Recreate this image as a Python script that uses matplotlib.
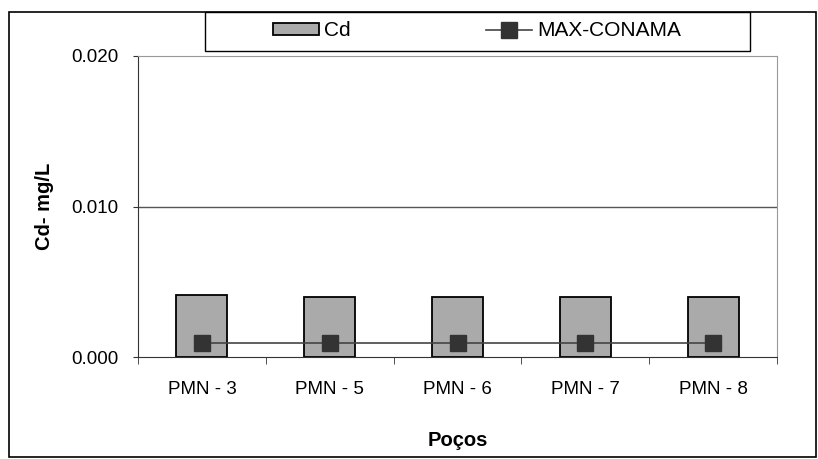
import matplotlib.pyplot as plt
from matplotlib.patches import Rectangle

plt.rcParams['font.family'] = ['Liberation Sans', 'DejaVu Sans']

# Cd concentrations per well (mg/L) and the CONAMA reference line
pocos = ["PMN - 3", "PMN - 5", "PMN - 6", "PMN - 7", "PMN - 8"]
cd = [0.0041, 0.0040, 0.0040, 0.0040, 0.0040]
max_conama = [0.0009, 0.0009, 0.0009, 0.0009, 0.0009]
yticks = [0.000, 0.010, 0.020]

fig = plt.figure(figsize=(8.18, 4.59), dpi=100)
ax = fig.add_axes([138 / 818, 1 - 357 / 459, 639 / 818, 301 / 459])

x = list(range(len(pocos)))
bars = ax.bar(x, cd, width=0.4, color="#aaaaaa", edgecolor="black",
              linewidth=1.3, label="Cd", zorder=2)
line, = ax.plot(x, max_conama, color="#444444", linewidth=1.2, marker="s",
                markersize=11.5, markerfacecolor="#333333",
                markeredgecolor="#333333", label="MAX-CONAMA", zorder=3)

ax.set_xlim(-0.5, len(pocos) - 0.5)
ax.set_ylim(0, 0.020)
ax.set_yticks(yticks)
ax.set_yticklabels([f"{v:.3f}" for v in yticks], fontsize=13.5)
ax.set_xticks(x)
ax.set_xticklabels(pocos, fontsize=13.5)
ax.set_xticks([i + 0.5 for i in range(-1, len(pocos))], minor=True)
ax.tick_params(axis="x", which="major", length=0, pad=17)
ax.tick_params(axis="x", which="minor", length=5, color="#333333")
ax.tick_params(axis="y", length=3.6, pad=10.5, color="#333333")

ax.axhline(0.010, color="#555555", linewidth=1.0, zorder=1)
ax.spines["left"].set_color("#333333")
ax.spines["bottom"].set_color("#333333")
ax.spines["top"].set_color("#999999")
ax.spines["right"].set_color("#999999")

ax.set_xlabel("Poços", fontsize=14.5, fontweight="bold", labelpad=24)
ax.set_ylabel("Cd- mg/L", fontsize=14.5, fontweight="bold", labelpad=12)

# outer chart border
fig.patches.append(Rectangle((9 / 818, 2 / 459), 807 / 818, 445 / 459,
                             transform=fig.transFigure, fill=False,
                             edgecolor="black", linewidth=1.2))
# legend box
fig.patches.append(Rectangle((205 / 818, 1 - 51 / 459), 545 / 818, 39 / 459,
                             transform=fig.transFigure, fill=False,
                             edgecolor="black", linewidth=1.0, zorder=5))
fig.legend(handles=[bars, line], loc="center left",
           bbox_to_anchor=(273 / 818, 1 - 31 / 459), ncol=2, frameon=False,
           fontsize=15, handlelength=2.2, handleheight=0.5,
           handletextpad=0.25, columnspacing=6.5, borderpad=0,
           borderaxespad=0)

fig.savefig("out.png", dpi=100)
